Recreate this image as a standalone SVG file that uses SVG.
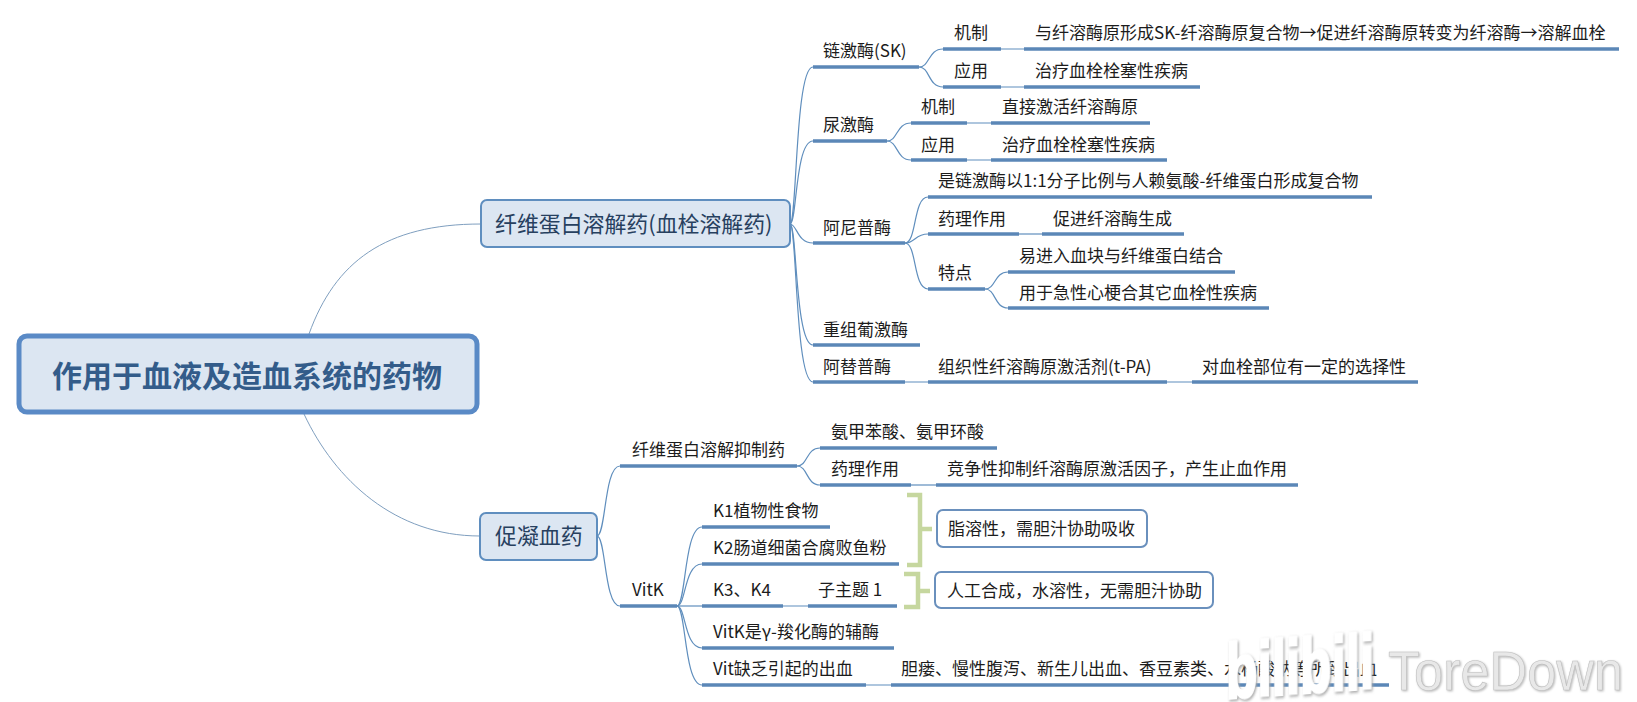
<svg xmlns="http://www.w3.org/2000/svg" width="1637" height="702" viewBox="0 0 1637 702">
<style>
text{font-family:"Noto Sans CJK SC","Noto Sans",sans-serif;fill:#1c1c1c;font-size:17px}
.c{fill:none;stroke:#5f8ebd;stroke-width:1.2}
.m{fill:none;stroke:#7f9fbf;stroke-width:1}
.u{stroke:#5b87b7;stroke-width:3.4}
.t{fill:#dce6f2;stroke:#5f8ebf;stroke-width:2}
.s{fill:#fff;stroke:#6a90bd;stroke-width:2}
.b{fill:none;stroke:#c6d79f;stroke-width:4.5}
text.h{font-size:21.9px;fill:#27405f}
</style>
<rect width="1637" height="702" fill="#fff"/>
<g id="connectors">
<path class="m" d="M309,334C335,262 385,224 481,224"/>
<path class="m" d="M304,414C335,480 395,536 480,536"/>
<path class="c" d="M790,224C797,224 795,67 813,67"/>
<path class="c" d="M790,224C797,224 795,141 813,141"/>
<path class="c" d="M790,224C797,224 797,243 813,243"/>
<path class="c" d="M790,224C797,224 795,345 813,345"/>
<path class="c" d="M790,224C797,224 795,382 813,382"/>
<path class="c" d="M919,67C930,67 928,49 943,49"/>
<path class="c" d="M919,67C930,67 928,87 943,87"/>
<path class="c" d="M1001,49H1024M1001,87H1024"/>
<path class="c" d="M887,141C898,141 896,123 911,123"/>
<path class="c" d="M887,141C898,141 896,160 911,160"/>
<path class="c" d="M967,123H991M967,160H991"/>
<path class="c" d="M905,243C917,243 913,197 928,197"/>
<path class="c" d="M905,243C915,243 915,234 928,234"/>
<path class="c" d="M905,243C917,243 913,289 928,289"/>
<path class="c" d="M1019,234H1042"/>
<path class="c" d="M985,289C996,289 994,272 1008,272"/>
<path class="c" d="M985,289C996,289 994,308 1008,308"/>
<path class="c" d="M905,382H928M1167,382H1192"/>
<path class="c" d="M597,536C606,536 604,466 620,466"/>
<path class="c" d="M597,536C606,536 604,606 620,606"/>
<path class="c" d="M797,466C808,466 806,448 820,448"/>
<path class="c" d="M797,466C808,466 806,485 820,485"/>
<path class="c" d="M911,485H936"/>
<path class="c" d="M677,606C686,606 684,527 702,527"/>
<path class="c" d="M677,606C686,606 684,564 702,564"/>
<path class="c" d="M677,606H702"/>
<path class="c" d="M677,606C686,606 684,648 702,648"/>
<path class="c" d="M677,606C686,606 684,685 702,685"/>
<path class="c" d="M783,606H808M866,685H891"/>
</g>
<g id="main"><rect x="19" y="336" width="458" height="76" rx="8" fill="#dce6f2" stroke="#5a8ac6" stroke-width="5"/><text x="247" y="387" text-anchor="middle" font-weight="700" style="font-size:30px;fill:#335c8a">作用于血液及造血系统的药物</text></g>
<g id="t1"><rect class="t" x="481" y="200" width="309" height="47" rx="6"/><text class="h" x="495" y="232">纤维蛋白溶解药(血栓溶解药)</text></g>
<g id="t2"><rect class="t" x="480" y="513" width="117" height="47" rx="6"/><text class="h" x="495" y="544">促凝血药</text></g>
<g id="sk"><path class="u" d="M813,67H919"/><text x="823" y="57">链激酶(SK)</text></g>
<g id="sk1"><path class="u" d="M943,49H1001"/><text x="954" y="39">机制</text></g>
<g id="sk1v"><path class="u" d="M1024,49H1619"/><text x="1035" y="39">与纤溶酶原形成SK-纤溶酶原复合物→促进纤溶酶原转变为纤溶酶→溶解血栓</text></g>
<g id="sk2"><path class="u" d="M943,87H1001"/><text x="954" y="77">应用</text></g>
<g id="sk2v"><path class="u" d="M1024,87H1200"/><text x="1035" y="77">治疗血栓栓塞性疾病</text></g>
<g id="uk"><path class="u" d="M813,141H887"/><text x="823" y="131">尿激酶</text></g>
<g id="uk1"><path class="u" d="M911,123H967"/><text x="921" y="113">机制</text></g>
<g id="uk1v"><path class="u" d="M991,123H1150"/><text x="1002" y="113">直接激活纤溶酶原</text></g>
<g id="uk2"><path class="u" d="M911,160H967"/><text x="921" y="151">应用</text></g>
<g id="uk2v"><path class="u" d="M991,160H1167"/><text x="1002" y="151">治疗血栓栓塞性疾病</text></g>
<g id="an"><path class="u" d="M813,243H905"/><text x="823" y="234">阿尼普酶</text></g>
<g id="an1"><path class="u" d="M928,197H1372"/><text x="938" y="187">是链激酶以1:1分子比例与人赖氨酸-纤维蛋白形成复合物</text></g>
<g id="an2"><path class="u" d="M928,234H1019"/><text x="938" y="225">药理作用</text></g>
<g id="an2v"><path class="u" d="M1042,234H1184"/><text x="1053" y="225">促进纤溶酶生成</text></g>
<g id="an3"><path class="u" d="M928,289H985"/><text x="938" y="279">特点</text></g>
<g id="an3a"><path class="u" d="M1008,272H1235"/><text x="1019" y="262">易进入血块与纤维蛋白结合</text></g>
<g id="an3b"><path class="u" d="M1008,308H1269"/><text x="1019" y="299">用于急性心梗合其它血栓性疾病</text></g>
<g id="re"><path class="u" d="M813,345H920"/><text x="823" y="336">重组葡激酶</text></g>
<g id="at"><path class="u" d="M813,382H905"/><text x="823" y="373">阿替普酶</text></g>
<g id="at1"><path class="u" d="M928,382H1167"/><text x="938" y="373">组织性纤溶酶原激活剂(t-PA)</text></g>
<g id="at2"><path class="u" d="M1192,382H1418"/><text x="1202" y="373">对血栓部位有一定的选择性</text></g>
<g id="inh"><path class="u" d="M620,466H797"/><text x="632" y="456">纤维蛋白溶解抑制药</text></g>
<g id="inh1"><path class="u" d="M820,448H997"/><text x="831" y="438">氨甲苯酸、氨甲环酸</text></g>
<g id="inh2"><path class="u" d="M820,485H911"/><text x="831" y="475">药理作用</text></g>
<g id="inh2v"><path class="u" d="M936,485H1298"/><text x="947" y="475">竞争性抑制纤溶酶原激活因子，产生止血作用</text></g>
<g id="vit"><path class="u" d="M620,606H677"/><text x="632" y="596">VitK</text></g>
<g id="k1"><path class="u" d="M702,527H830"/><text x="713" y="517">K1植物性食物</text></g>
<g id="k2"><path class="u" d="M702,564H899"/><text x="713" y="554">K2肠道细菌合腐败鱼粉</text></g>
<g id="k3"><path class="u" d="M702,606H783"/><text x="713" y="596">K3、K4</text></g>
<g id="k3s"><path class="u" d="M808,606H897"/><text x="818" y="596">子主题 1</text></g>
<g id="k5"><path class="u" d="M702,648H894"/><text x="713" y="638">VitK是γ-羧化酶的辅酶</text></g>
<g id="k6"><path class="u" d="M702,685H866"/><text x="713" y="675">Vit缺乏引起的出血</text></g>
<g id="k6v"><path class="u" d="M891,685H1389"/><text x="901" y="675">胆瘘、慢性腹泻、新生儿出血、香豆素类、水杨酸钠等所致出血</text></g>
<g id="b1"><path class="b" d="M907,495H920V565H907M920,529H932"/></g>
<g id="n1"><rect class="s" x="937" y="510" width="210" height="37" rx="6"/><text x="948" y="535">脂溶性，需胆汁协助吸收</text></g>
<g id="b2"><path class="b" d="M904,574H918V607H904M918,591H930"/></g>
<g id="n2"><rect class="s" x="935" y="572" width="278" height="36" rx="6"/><text x="947" y="597">人工合成，水溶性，无需胆汁协助</text></g>
<g id="watermark">
<text transform="translate(1226,699) skewY(-4) scale(1.14,1.72)" style="font-family:'Liberation Sans',sans-serif;font-size:45px;fill:#fff;stroke:#fff;stroke-width:1.6;font-weight:700;filter:drop-shadow(1px 1px 1px #a8a8a8)">bilibili</text>
<text x="1388" y="690" textLength="235" lengthAdjust="spacingAndGlyphs" style="font-family:'Liberation Sans',sans-serif;font-size:55px;fill:#e8e8e8;stroke:#c0c0c0;stroke-width:0.6;filter:drop-shadow(1px 1px 1px #bbb)">ToreDown</text>
</g>
</svg>
